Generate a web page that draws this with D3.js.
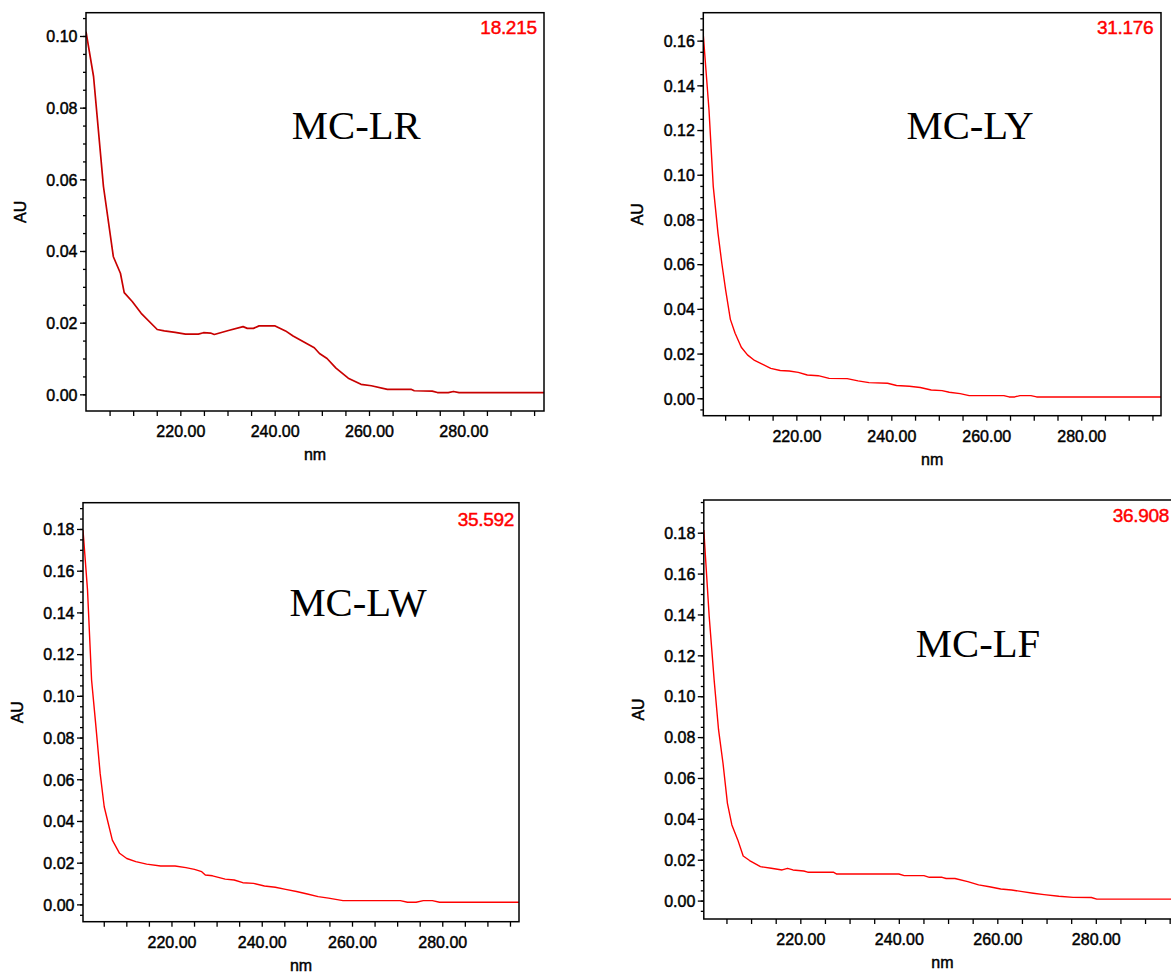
<!DOCTYPE html>
<html>
<head>
<meta charset="utf-8">
<script src="https://cdn.jsdelivr.net/npm/d3@7"></script>
<style>
  html, body { margin: 0; padding: 0; background: #fff; }
  svg { display: block; }
</style>
</head>
<body>
<svg id="chart" width="1171" height="974"></svg>
<script>
// ---------------- data ----------------
const panelNames = ["MC-LR", "MC-LY", "MC-LW", "MC-LF"];
const peakTimes = ["18.215", "31.176", "35.592", "36.908"];
const xTickLabels = [220, 240, 260, 280];

const lrNm = [200.0, 201.6, 203.7, 205.8, 207.3, 208.1, 209.8, 211.7, 215.1, 216.6, 218.9, 221.1, 223.8, 224.9, 226.4, 227.2, 230.2, 233.3, 234.2, 235.5, 236.7, 240.1, 242.3, 243.9, 246.1, 248.4, 249.5, 251.1, 253.0, 255.6, 258.3, 260.5, 263.9, 268.9, 269.6, 273.4, 274.5, 276.8, 277.9, 279.1, 297.1];
const lrAU = [0.1012, 0.0887, 0.0580, 0.0384, 0.0338, 0.0284, 0.0259, 0.0226, 0.0181, 0.0177, 0.0173, 0.0168, 0.0168, 0.0172, 0.0171, 0.0167, 0.0178, 0.0189, 0.0184, 0.0184, 0.0191, 0.0191, 0.0177, 0.0163, 0.0147, 0.0130, 0.0114, 0.0100, 0.0073, 0.0045, 0.0028, 0.0024, 0.0014, 0.0014, 0.0010, 0.0009, 0.0005, 0.0005, 0.0008, 0.0005, 0.0005];

const lyNm = [200.4, 201.6, 202.5, 203.5, 204.3, 205.1, 206.1, 207.1, 208.4, 209.7, 211.2, 212.7, 214.6, 216.6, 218.5, 220.4, 222.3, 224.6, 226.9, 230.7, 233.0, 235.3, 239.2, 241.1, 243.8, 246.1, 248.4, 250.7, 252.2, 254.5, 256.4, 263.7, 264.8, 266.0, 267.1, 269.4, 270.6, 296.8];
const lyAU = [0.1625, 0.1290, 0.0947, 0.0738, 0.0604, 0.0485, 0.0353, 0.0291, 0.0228, 0.0194, 0.0169, 0.0154, 0.0134, 0.0124, 0.0122, 0.0116, 0.0104, 0.0101, 0.0089, 0.0088, 0.0078, 0.0070, 0.0067, 0.0057, 0.0054, 0.0048, 0.0037, 0.0034, 0.0027, 0.0021, 0.0012, 0.0012, 0.0006, 0.0006, 0.0012, 0.0012, 0.0006, 0.0006];

const lwNm = [200.4, 201.4, 202.3, 203.2, 204.2, 205.1, 206.0, 206.9, 208.5, 210.1, 212.1, 214.5, 217.6, 220.8, 223.2, 225.1, 226.7, 227.5, 229.1, 231.9, 233.9, 235.8, 238.2, 240.6, 243.0, 245.3, 247.7, 250.1, 252.5, 254.8, 258.0, 270.7, 272.3, 274.2, 275.8, 277.8, 279.4, 297.0];
const lwAU = [0.1795, 0.1507, 0.1076, 0.0868, 0.0628, 0.0468, 0.0388, 0.0308, 0.0245, 0.0220, 0.0205, 0.0193, 0.0184, 0.0184, 0.0176, 0.0168, 0.0157, 0.0141, 0.0137, 0.0121, 0.0117, 0.0104, 0.0101, 0.0088, 0.0082, 0.0072, 0.0062, 0.0050, 0.0037, 0.0030, 0.0018, 0.0018, 0.0010, 0.0010, 0.0018, 0.0018, 0.0010, 0.0010];

const lfNm = [200.4, 201.5, 202.5, 203.4, 204.3, 205.2, 206.1, 207.3, 208.4, 209.7, 211.9, 214.1, 216.3, 217.4, 218.5, 220.7, 221.5, 226.7, 227.4, 240.0, 241.1, 245.1, 246.2, 248.8, 249.6, 251.4, 254.0, 256.2, 258.4, 260.7, 262.9, 265.1, 267.3, 269.5, 272.5, 275.4, 279.1, 280.2, 297.3];
const lfAU = [0.1813, 0.1389, 0.1079, 0.0835, 0.0672, 0.0476, 0.0370, 0.0297, 0.0218, 0.0196, 0.0166, 0.0158, 0.0150, 0.0158, 0.0150, 0.0145, 0.0139, 0.0139, 0.0130, 0.0130, 0.0122, 0.0122, 0.0114, 0.0114, 0.0108, 0.0108, 0.0093, 0.0077, 0.0068, 0.0057, 0.0052, 0.0044, 0.0036, 0.0029, 0.0021, 0.0016, 0.0015, 0.0007, 0.0007];

const yTickMax = [0.10, 0.16, 0.18, 0.18];

// ---------------- layout ----------------
const layout = [
  { left: 86,    right: 544,  top: 12.7,  bottom: 411,   xDom: [200.0, 297.1], yDom: [-0.00465, 0.1065], color: "#c80000", lw: 1.7, nameX: 356.3, nameY: 139.3, peakX: 536.7, peakY: 34 },
  { left: 703.3, right: 1161, top: 12.7,  bottom: 415.7, xDom: [200.4, 296.8], yDom: [-0.0078, 0.1725],  color: "#ff0000", lw: 1.4, nameX: 970,   nameY: 139.3, peakX: 1153.3, peakY: 34 },
  { left: 83,    right: 519,  top: 502.7, bottom: 921.7, xDom: [200.4, 297.0], yDom: [-0.0083, 0.1926],  color: "#ff0000", lw: 1.4, nameX: 358,   nameY: 616,   peakX: 514,   peakY: 525.5 },
  { left: 703.8, right: 1181, top: 500,   bottom: 919,   xDom: [200.4, 297.3], yDom: [-0.009, 0.196],    color: "#ff0000", lw: 1.4, nameX: 978,   nameY: 656.7, peakX: 1169,  peakY: 522.3 }
];
const series = [[lrNm, lrAU], [lyNm, lyAU], [lwNm, lwAU], [lfNm, lfAU]];

const SANS = "'Liberation Sans', Arial, sans-serif";
const SERIF = "'Liberation Serif', 'Times New Roman', serif";

const svg = d3.select("#chart");
svg.append("rect").attr("width", 1171).attr("height", 974).attr("fill", "#fff");

function heavy(sel, color) {
  sel.attr("stroke", color).attr("stroke-width", 0.45).attr("paint-order", "stroke");
}

layout.forEach((p, i) => {
  const g = svg.append("g");
  const x = d3.scaleLinear().domain(p.xDom).range([p.left, p.right]);
  const y = d3.scaleLinear().domain(p.yDom).range([p.bottom, p.top]);

  const clipId = "clip" + i;
  svg.append("clipPath").attr("id", clipId)
    .append("rect").attr("x", p.left).attr("y", p.top)
    .attr("width", p.right - p.left).attr("height", p.bottom - p.top);

  // x axis ticks every 5 nm
  const xMinor = d3.range(205, 296, 5);
  const xAxis = g.append("g").attr("transform", `translate(0,${p.bottom})`)
    .call(d3.axisBottom(x).tickValues(xMinor).tickSize(5).tickSizeOuter(0)
      .tickFormat(d => xTickLabels.includes(d) ? d.toFixed(2) : ""));
  xAxis.select(".domain").remove();
  xAxis.selectAll("line").attr("stroke", "#000").attr("stroke-width", 1.3);
  xAxis.selectAll("text").attr("y", 26).attr("dy", null)
    .attr("font-family", SANS).attr("font-size", 16).attr("fill", "#000")
    .call(heavy, "#000");

  // y axis: minor ticks every 0.005, labelled ticks every 0.02
  const yMinor = d3.range(Math.ceil(p.yDom[0] / 0.005), Math.floor(p.yDom[1] / 0.005) + 1).map(k => k * 0.005);
  const yMajor = d3.range(0, Math.round(yTickMax[i] / 0.02) + 1).map(k => k * 0.02);
  const yMinorAxis = g.append("g").attr("transform", `translate(${p.left},0)`)
    .call(d3.axisLeft(y).tickValues(yMinor).tickSize(3).tickSizeOuter(0).tickFormat(""));
  yMinorAxis.select(".domain").remove();
  yMinorAxis.selectAll("line").attr("stroke", "#000").attr("stroke-width", 1.3);

  const yMajorAxis = g.append("g").attr("transform", `translate(${p.left},0)`)
    .call(d3.axisLeft(y).tickValues(yMajor).tickSize(6).tickSizeOuter(0).tickFormat(d => d.toFixed(2)));
  yMajorAxis.select(".domain").remove();
  yMajorAxis.selectAll("line").attr("stroke", "#000").attr("stroke-width", 1.3);
  yMajorAxis.selectAll("text").attr("x", -8.5).attr("dy", "0.36em")
    .attr("font-family", SANS).attr("font-size", 16).attr("fill", "#000")
    .call(heavy, "#000");

  // spectrum line
  const [nm, au] = series[i];
  const pts = nm.map((v, k) => [v, au[k]]);
  g.append("path").datum(pts)
    .attr("clip-path", `url(#${clipId})`)
    .attr("fill", "none").attr("stroke", p.color).attr("stroke-width", p.lw)
    .attr("stroke-linejoin", "round")
    .attr("d", d3.line().x(d => x(d[0])).y(d => y(d[1])));

  // frame
  g.append("rect").attr("x", p.left).attr("y", p.top)
    .attr("width", p.right - p.left).attr("height", p.bottom - p.top)
    .attr("fill", "none").attr("stroke", "#000").attr("stroke-width", 1.5);

  // axis titles
  g.append("text").attr("x", (p.left + p.right) / 2).attr("y", p.bottom + 49)
    .attr("text-anchor", "middle").attr("font-family", SANS).attr("font-size", 16)
    .text("nm").call(heavy, "#000");
  g.append("text")
    .attr("transform", `translate(${p.left - 60},${(p.top + p.bottom) / 2}) rotate(-90)`)
    .attr("text-anchor", "middle").attr("font-family", SANS).attr("font-size", 16)
    .text("AU").call(heavy, "#000");

  // peak retention time
  g.append("text").attr("x", p.peakX).attr("y", p.peakY)
    .attr("text-anchor", "end").attr("font-family", SANS).attr("font-size", 19)
    .attr("letter-spacing", "-0.3").attr("fill", "#ff0000")
    .text(peakTimes[i]).call(heavy, "#ff0000");

  // compound name
  g.append("text").attr("x", p.nameX).attr("y", p.nameY)
    .attr("text-anchor", "middle").attr("font-family", SERIF).attr("font-size", 40.7)
    .attr("fill", "#000")
    .text(panelNames[i]);
});
</script>
</body>
</html>
